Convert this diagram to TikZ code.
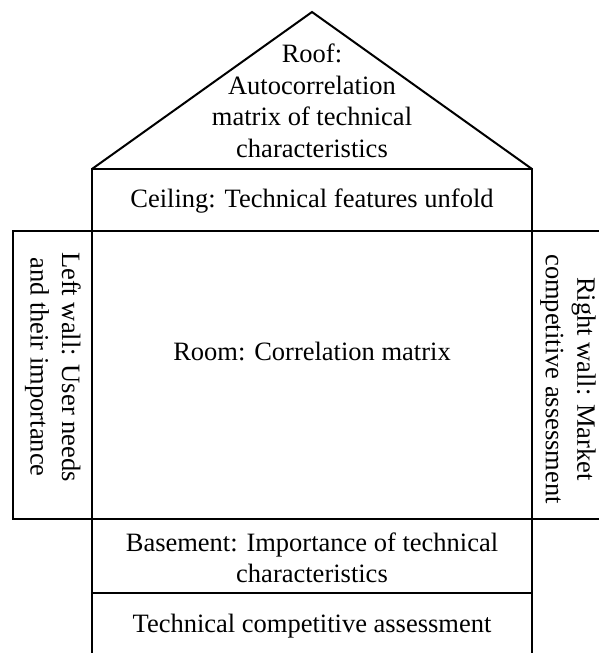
\documentclass[tikz,border=0pt]{standalone}
\usepackage{fontspec}
\setmainfont{Liberation Serif}
\begin{document}
\begin{tikzpicture}[x=1pt,y=-1pt,
  wall/.style={draw=black,line width=2pt},
  lbl/.style={font=\fontsize{26.5}{31.5}\selectfont,align=center,inner sep=0pt}]
\useasboundingbox (0,0) rectangle (599,653);
\clip (0,0) rectangle (599,653);
% roof
\draw[wall,line join=miter] (92,169) -- (312,12) -- (532,169);
% ceiling
\draw[wall] (92,169) rectangle (532,231);
% left wall
\draw[wall] (12.5,231) rectangle (92,518.5);
% room
\draw[wall] (92,231) rectangle (532,518.5);
% right wall (cropped at right)
\draw[wall] (532,231) rectangle (620,518.5);
% basement
\draw[wall] (92,518.5) rectangle (532,593);
% bottom box (cropped at bottom)
\draw[wall] (92,593) rectangle (532,670);
% texts
\node[lbl] (roof) at (312,101) {Roof:\\Autocorrelation\\matrix of technical\\characteristics};
\node[lbl] (ceiling) at (312,201) {Ceiling: Technical features unfold};
\node[lbl,rotate=-90] (left) at (53,367) {Left wall: User needs\\and their importance};
\node[lbl] (room) at (312,351) {Room: Correlation matrix};
\node[lbl,rotate=-90] (right) at (568,379) {Right wall: Market\\competitive assessment};
\node[lbl] (base) at (312,558) {Basement: Importance of technical\\characteristics};
\node[lbl] (tech) at (312,626) {Technical competitive assessment};
\end{tikzpicture}
\end{document}
